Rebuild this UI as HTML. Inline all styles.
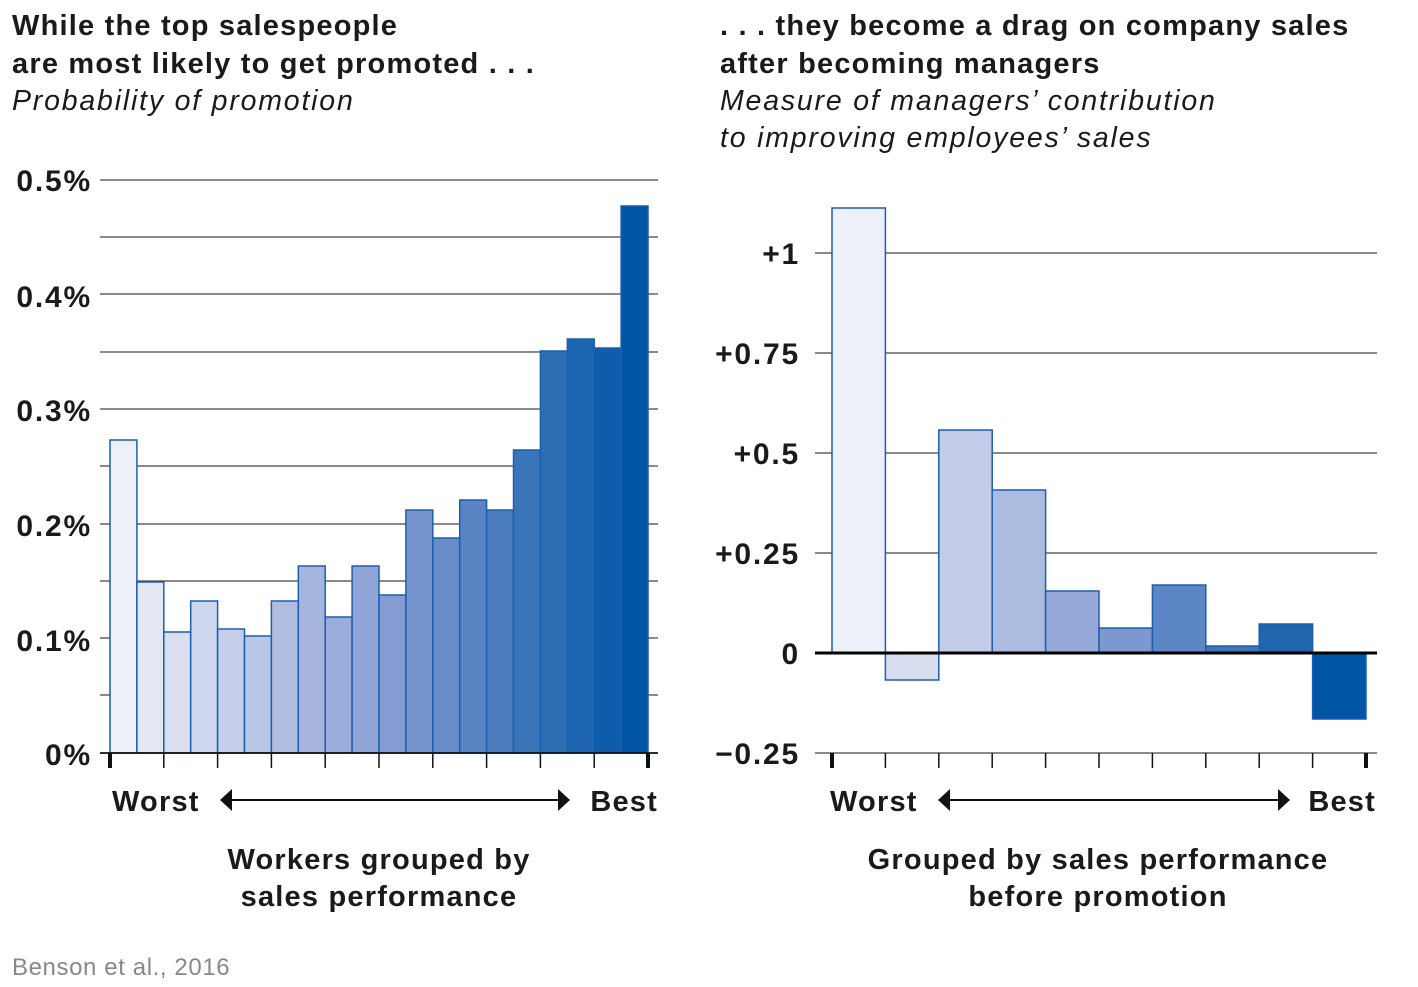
<!DOCTYPE html>
<html><head><meta charset="utf-8"><style>
body{margin:0;background:#fff;width:1418px;height:987px;overflow:hidden}
svg{display:block}
text{font-family:"Liberation Sans",sans-serif;fill:#1a1a1a}
.t{font-size:29px;font-weight:bold;letter-spacing:1.2px}
.s{font-size:28.5px;font-style:italic;letter-spacing:1.8px}
.y{font-size:30px;font-weight:bold;letter-spacing:1.8px}
</style></head><body>
<svg id="c" width="1418" height="987" xmlns="http://www.w3.org/2000/svg">
<text class="t" x="12" y="35">While the top salespeople</text>
<text class="t" x="12" y="73">are most likely to get promoted . . .</text>
<text class="s" x="12" y="110">Probability of promotion</text>
<text class="t" x="720" y="35">. . . they become a drag on company sales</text>
<text class="t" x="720" y="73">after becoming managers</text>
<text class="s" x="720" y="110">Measure of managers’ contribution</text>
<text class="s" x="720" y="147">to improving employees’ sales</text>
<g id="g"></g>
<text class="y" x="92" y="191" text-anchor="end">0.5%</text>
<text class="y" x="92" y="307" text-anchor="end">0.4%</text>
<text class="y" x="92" y="421" text-anchor="end">0.3%</text>
<text class="y" x="92" y="536" text-anchor="end">0.2%</text>
<text class="y" x="92" y="651" text-anchor="end">0.1%</text>
<text class="y" x="92" y="765" text-anchor="end">0%</text>
<text class="y" x="800" y="264" text-anchor="end">+1</text>
<text class="y" x="800" y="364" text-anchor="end">+0.75</text>
<text class="y" x="800" y="464" text-anchor="end">+0.5</text>
<text class="y" x="800" y="564" text-anchor="end">+0.25</text>
<text class="y" x="800" y="664" text-anchor="end">0</text>
<text class="y" x="800" y="764" text-anchor="end">−0.25</text>
<text class="t" x="112" y="811">Worst</text>
<text class="t" x="658" y="811" text-anchor="end">Best</text>
<text class="t" x="830" y="811">Worst</text>
<text class="t" x="1376" y="811" text-anchor="end">Best</text>
<text class="t" x="379" y="869" text-anchor="middle">Workers grouped by</text>
<text class="t" x="379" y="906" text-anchor="middle">sales performance</text>
<text class="t" x="1098" y="869" text-anchor="middle">Grouped by sales performance</text>
<text class="t" x="1098" y="906" text-anchor="middle">before promotion</text>
<text x="12" y="975" style="font-size:24px;fill:#888;letter-spacing:0.6px">Benson et al., 2016</text>
</svg>
<script>
var g=document.getElementById('g'),h='';
function col(t){var a=[237,240,248],m=[140,160,212],b=[0,85,165],r=[];for(var k=0;k<3;k++){r[k]=t<.5?a[k]+(m[k]-a[k])*t*2:m[k]+(b[k]-m[k])*(t-.5)*2;}return 'rgb('+r.map(Math.round)+')';}
[180,237,294,352,409,466,524,581,638,695].forEach(function(y){h+='<line x1="100" x2="658" y1="'+y+'" y2="'+y+'" stroke="#444" stroke-width="1.3"/>';});
var L=[440,582,632,601,629,636,601,566,617,566,595,510,538,500,510,450,351,339,348,206],w=26.9;
L.forEach(function(t,i){h+='<rect x="'+(110+i*w)+'" y="'+t+'" width="'+w+'" height="'+(753-t)+'" fill="'+col(i/19)+'" stroke="#1a5fb0" stroke-width="1.5"/>';});
h+='<line x1="100" x2="658" y1="753" y2="753" stroke="#111" stroke-width="1.8"/>';
for(var i=0;i<=10;i++){var x=110+i*53.8;h+='<line x1="'+x+'" x2="'+x+'" y1="753" y2="768" stroke="#111" stroke-width="'+(i==0||i==10?4:1.5)+'"/>';}
[253,353,453,553,753].forEach(function(y){h+='<line x1="815" x2="1377" y1="'+y+'" y2="'+y+'" stroke="#444" stroke-width="1.3"/>';});
var R=[208,680,430,490,591,628,585,646,624,719],w2=53.4;
R.forEach(function(t,i){var y=Math.min(t,653),hh=Math.abs(653-t);h+='<rect x="'+(832+i*w2)+'" y="'+y+'" width="'+w2+'" height="'+hh+'" fill="'+col(i/9)+'" stroke="#1a5fb0" stroke-width="1.5"/>';});
h+='<line x1="815" x2="1377" y1="653" y2="653" stroke="#000" stroke-width="3"/>';
for(var i=0;i<=10;i++){var x=832+i*w2;h+='<line x1="'+x+'" x2="'+x+'" y1="753" y2="768" stroke="#111" stroke-width="'+(i==0||i==10?4:1.5)+'"/>';}
function arr(x1,x2){return '<line x1="'+(x1+8)+'" x2="'+(x2-8)+'" y1="800" y2="800" stroke="#111" stroke-width="2"/><polygon points="'+x1+',800 '+(x1+12)+',789 '+(x1+12)+',811" fill="#111"/><polygon points="'+x2+',800 '+(x2-12)+',789 '+(x2-12)+',811" fill="#111"/>';}
h+=arr(220,570)+arr(938,1290);
g.innerHTML=h;
</script>
</body></html>
